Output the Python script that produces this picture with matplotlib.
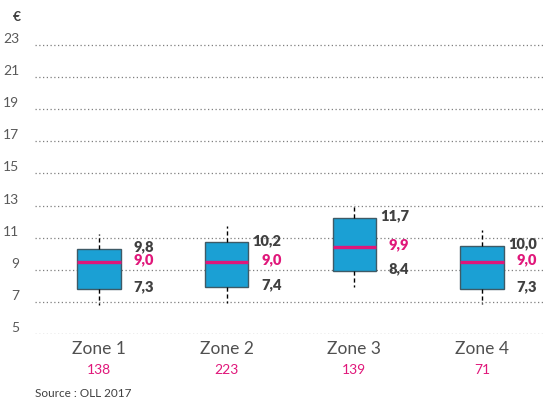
import matplotlib.pyplot as plt
from matplotlib.ticker import FixedLocator
import numpy as np

plt.rcParams['font.family'] = ['Lato', 'DejaVu Sans']

zones = ["Zone 1", "Zone 2", "Zone 3", "Zone 4"]
counts = ["138", "223", "139", "71"]
q1 = [7.3, 7.4, 8.4, 7.3]
median = [9.0, 9.0, 9.9, 9.0]
q3 = [9.8, 10.2, 11.7, 10.0]
whis_lo = [6.3, 6.4, 7.4, 6.35]
whis_hi = [10.7, 11.2, 12.6, 11.0]
y_labels = list(range(5, 24, 2))

BLUE = "#1BA0D4"
PINK = "#E0177A"
GRAY = "#404040"

fig = plt.figure(figsize=(5.43, 4.02), dpi=100)
ax = fig.add_axes([0.0645, 0.1667, 0.941, 0.7587])

stats = []
for i in range(len(zones)):
    stats.append(dict(med=median[i], q1=q1[i], q3=q3[i],
                      whislo=whis_lo[i], whishi=whis_hi[i], fliers=[]))

pos = np.arange(len(zones))
ax.bxp(stats, positions=pos, widths=0.34, showcaps=False, showfliers=False,
       patch_artist=True,
       boxprops=dict(facecolor=BLUE, edgecolor="#3E5A66", linewidth=1),
       medianprops=dict(color=PINK, linewidth=2.4),
       whiskerprops=dict(color="black", linestyle=(0, (3, 2)), linewidth=1))

# value labels
for i, x in enumerate(pos):
    ax.text(x + 0.43, q3[i] + 0.2, f"{q3[i]:.1f}".replace(".", ","), ha="right",
            va="center", fontsize=10.5, fontweight="heavy", color=GRAY)
    ax.text(x + 0.43, median[i] + 0.2, f"{median[i]:.1f}".replace(".", ","), ha="right",
            va="center", fontsize=10.5, fontweight="heavy", color=PINK)
    ax.text(x + 0.43, q1[i] + 0.2, f"{q1[i]:.1f}".replace(".", ","), ha="right",
            va="center", fontsize=10.5, fontweight="heavy", color=GRAY)

ax.set_xlim(-0.5, 3.5)
ax.set_ylim(4.5, 23.5)
ax.set_yticks(y_labels)
ax.set_yticklabels([str(v) for v in y_labels], fontsize=10, color="#595959")
ax.yaxis.set_minor_locator(FixedLocator(np.array(y_labels) - 0.5))
ax.grid(which="minor", axis="y", color="#7F7F7F", linestyle=(0, (1, 2)), linewidth=0.9)
ax.tick_params(axis="y", which="both", length=0, pad=11.5)
ax.set_xticks(pos)
ax.set_xticklabels([])
ax.tick_params(axis="x", length=0)
ax.set_axisbelow(True)
for s in ax.spines.values():
    s.set_visible(False)

for i, x in enumerate(pos):
    ax.text(x, -0.045, zones[i], transform=ax.get_xaxis_transform(), ha="center",
            va="center", fontsize=12.5, color="#505050")
    ax.text(x, -0.115, counts[i], transform=ax.get_xaxis_transform(), ha="center",
            va="center", fontsize=10, color=PINK)

fig.text(0.024, 0.958, "€", fontsize=10, fontweight="bold", color="#404040",
         va="center", ha="left")
fig.text(0.0645, 0.022, "Source : OLL 2017", fontsize=8.5, color="#404040",
         va="center", ha="left")

fig.savefig("out.png", dpi=100)
